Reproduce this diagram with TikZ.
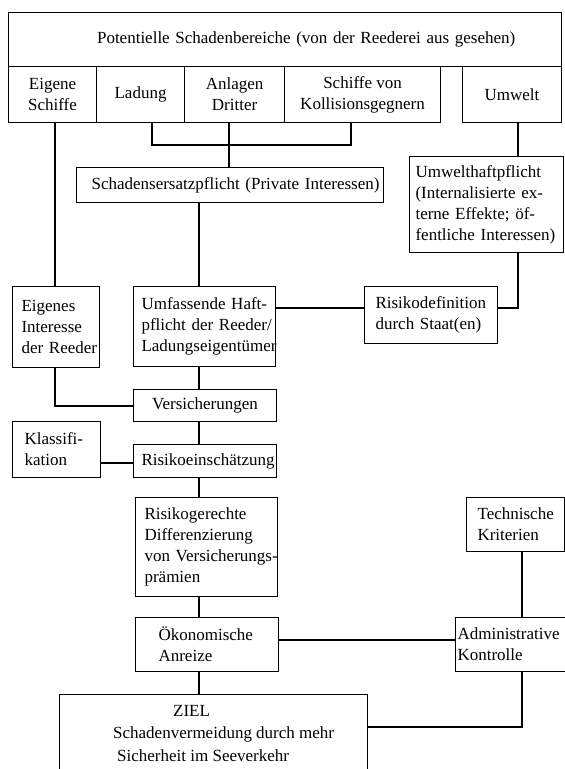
\documentclass[tikz,border=0pt]{standalone}
\usepackage{fontspec}
\setmainfont{Liberation Serif}
\newcommand{\mln}[1]{\mbox{#1}}
\begin{document}
\begin{tikzpicture}[x=1pt,y=-1pt,
  box/.style={draw, line width=1.1pt, inner sep=0pt, anchor=north west, font=\fontsize{17}{21}\selectfont},
  ln/.style={line width=1.1pt}]
\useasboundingbox (0,0) rectangle (565,769);
\clip (0,0) rectangle (565,769);

% boxes
\node[box, minimum width=553, minimum height=54, text width=376, align=left] (top) at (8,12) {\mln{Potentielle Schadenbereiche (von der Reederei aus gesehen)}};
\node[box, minimum width=88, minimum height=56, align=center] (es) at (8,66) {Eigene\\Schiffe};
\node[box, minimum width=88, minimum height=56, align=center] (la) at (96,66) {Ladung};
\node[box, minimum width=100, minimum height=56, align=center] (ad) at (184,66) {Anlagen\\Dritter};
\node[box, minimum width=156, minimum height=56, align=center] (sk) at (284,66) {Schiffe von\\Kollisionsgegnern};
\node[box, minimum width=99, minimum height=56, align=center] (um) at (462,66) {Umwelt};

\node[box, minimum width=307, minimum height=35, text width=277, align=left] (sch) at (76,167) {\mln{Schadensersatzpflicht (Private Interessen)}};
\node[box, minimum width=154, minimum height=96, text width=142, align=left] (uh) at (409,156) {\mln{Umwelthaftpflicht}\\\mln{(Internalisierte ex-}\\\mln{terne Effekte; öf-}\\\mln{fentliche Interessen)}};

\node[box, minimum width=87, minimum height=81, text width=69, align=left] (eig) at (12,286) {\mln{Eigenes}\\\mln{Interesse}\\\mln{der Reeder}};
\node[box, minimum width=142, minimum height=80, text width=126, align=left] (umf) at (133,286) {\mln{Umfassende Haft-}\\\mln{pflicht der Reeder/}\\\mln{Ladungseigentümer}};
\node[box, minimum width=133, minimum height=57, text width=111, align=left] (rd) at (364,286) {\mln{Risikodefinition}\\\mln{durch Staat(en)}};

\node[box, minimum width=143, minimum height=32, align=center] (vers) at (133,389) {Versicherungen};
\node[box, minimum width=88, minimum height=56, text width=64, align=left] (kl) at (12,421) {\mln{Klassifi-}\\\mln{kation}};
\node[box, minimum width=143, minimum height=33, text width=127, align=left] (re) at (133,444) {\mln{Risikoeinschätzung}};

\node[box, minimum width=142, minimum height=99, text width=124, align=left] (rg) at (135,497) {\mln{Risikogerechte}\\\mln{Differenzierung}\\\mln{von Versicherungs-}\\\mln{prämien}};
\node[box, minimum width=98, minimum height=54, text width=76, align=left] (tk) at (466,497) {\mln{Technische}\\\mln{Kriterien}};

\node[box, minimum width=143, minimum height=54, text width=97, align=left] (ok) at (135,617) {\mln{Ökonomische}\\\mln{Anreize}};
\node[box, minimum width=115, minimum height=54, text width=111, align=left] (adm) at (455,617) {\mln{Administrative}\\\mln{Kontrolle}};

\node[box, minimum width=308, minimum height=110] (ziel) at (59,694) {};
\node[anchor=north west, inner sep=0pt, align=left, font=\fontsize{17}{21}\selectfont] (zt) at (113,705) {\hspace*{60pt}ZIEL\\[1.5pt]Schadenvermeidung durch mehr\\[1.5pt]\hspace*{4pt}Sicherheit im Seeverkehr};

% connectors
\coordinate (bL) at (152,145);
\coordinate (bM) at (229,145);
\coordinate (bR) at (351,145);
\draw[ln] (la.south -| bL) -- (bL) -- (bR) -- (sk.south -| bR);
\draw[ln] (ad.south -| bM) -- (sch.north -| bM);

\coordinate (xes) at (55,0);
\draw[ln] (es.south -| xes) -- (eig.north -| xes);

\coordinate (sp) at (199,0);
\draw[ln] (sch.south -| sp) -- (umf.north -| sp);

\coordinate (xu) at (518,308);
\draw[ln] (um.south -| xu) -- (uh.north -| xu);
\draw[ln] (uh.south -| xu) -- (xu) -- (rd.east |- xu);
\draw[ln] (umf.east |- xu) -- (rd.west |- xu);

\coordinate (ev) at (55,406);
\draw[ln] (eig.south -| ev) -- (ev) -- (vers.west |- ev);
\draw[ln] (umf.south -| sp) -- (vers.north -| sp);

\coordinate (kr) at (0,463);
\draw[ln] (kl.east |- kr) -- (re.west |- kr);
\draw[ln] (vers.south -| sp) -- (re.north -| sp);
\draw[ln] (re.south -| sp) -- (rg.north -| sp);
\draw[ln] (rg.south -| sp) -- (ok.north -| sp);
\draw[ln] (ok.south -| sp) -- (ziel.north -| sp);

\coordinate (xa) at (522,727);
\coordinate (oa) at (0,640);
\draw[ln] (tk.south -| xa) -- (adm.north -| xa);
\draw[ln] (ok.east |- oa) -- (adm.west |- oa);
\draw[ln] (adm.south -| xa) -- (xa) -- (ziel.east |- xa);
\end{tikzpicture}
\end{document}
